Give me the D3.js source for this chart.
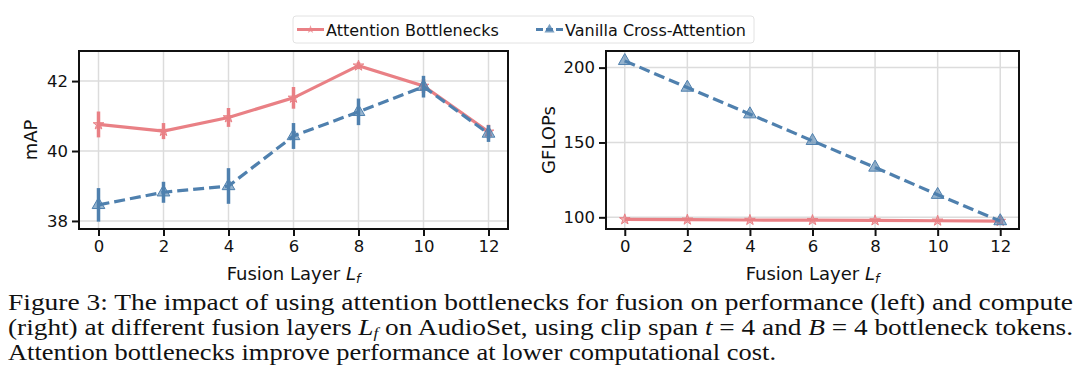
<!DOCTYPE html>
<html>
<head>
<meta charset="utf-8">
<script src="https://cdn.jsdelivr.net/npm/d3@7"></script>
<style>
  body { margin: 0; background: #fff; }
  svg { display: block; }
  .tick text { font-family: "DejaVu Sans", sans-serif; }
  .cap text { font-family: "Liberation Serif", "Times New Roman", serif; }
</style>
</head>
<body>
<svg id="canvas" width="1080" height="381"></svg>
<script>
(function() {

    var layers = [0, 2, 4, 6, 8, 10, 12];
    var xTicks = [0, 2, 4, 6, 8, 10, 12];

    // left panel: mAP
    var mapBottleneck = [40.76, 40.57, 40.96, 41.52, 42.44, 41.86, 40.55];
    var mapBottleneckErr = [0.37, 0.23, 0.27, 0.31, 0.1, 0.2, 0.2];
    var mapVanilla = [38.46, 38.82, 39.0, 40.43, 41.12, 41.84, 40.5];
    var mapVanillaErr = [0.48, 0.3, 0.51, 0.37, 0.38, 0.31, 0.24];
    var mapTicks = [38, 40, 42];

    // right panel: GFLOPs
    var flopsBottleneck = [98.6, 98.4, 98.2, 98.1, 97.9, 97.7, 97.5];
    var flopsVanilla = [204.5, 186.7, 168.9, 151.1, 133.3, 115.1, 97.5];
    var flopsTicks = [100, 150, 200];

    var seriesNames = ['Attention Bottlenecks', 'Vanilla Cross-Attention'];

    var red = '#e98085',
        blue = '#4f80ae',
        font = '"DejaVu Sans", sans-serif';

    var svg = d3.select('#canvas');
    svg.append('rect').attr('width', 1080).attr('height', 381).attr('fill', '#fff');

    var starPath = d3.symbol().type(d3.symbolStar).size(35)();
    var triPath = d3.symbol().type(d3.symbolTriangle).size(70)();

    function panel(opts) {
        var x = d3.scaleLinear().domain([-0.6, 12.6]).range([opts.x0, opts.x1]);
        var y = d3.scaleLinear().domain(opts.yDomain).range([229, 51]);
        var g = svg.append('g');

        // grid
        g.selectAll('.vg').data(xTicks).enter().append('line')
            .attr('x1', function(d) { return x(d); })
            .attr('x2', function(d) { return x(d); })
            .attr('y1', 51).attr('y2', 229)
            .attr('stroke', '#dcdcdc').attr('stroke-width', 1.5);
        g.selectAll('.hg').data(opts.yTicks).enter().append('line')
            .attr('x1', opts.x0).attr('x2', opts.x1)
            .attr('y1', function(d) { return y(d); })
            .attr('y2', function(d) { return y(d); })
            .attr('stroke', '#dcdcdc').attr('stroke-width', 1.5);

        // axes
        var xa = g.append('g').attr('transform', 'translate(0,229)')
            .call(d3.axisBottom(x).tickValues(xTicks).tickFormat(d3.format('d'))
                .tickSize(7).tickPadding(4));
        var ya = g.append('g').attr('transform', 'translate(' + opts.x0 + ',0)')
            .call(d3.axisLeft(y).tickValues(opts.yTicks).tickFormat(d3.format('d'))
                .tickSize(7).tickPadding(4));
        [xa, ya].forEach(function(a) {
            a.select('.domain').remove();
            a.selectAll('.tick line').attr('stroke', '#111').attr('stroke-width', 2);
            a.selectAll('.tick text').attr('font-size', 16.5).attr('fill', '#111');
        });

        var line = d3.line()
            .x(function(d, i) { return x(layers[i]); })
            .y(function(d) { return y(d); });

        opts.series.forEach(function(s) {
            var sg = g.append('g');
            if (s.err) {
                sg.selectAll('.eb').data(s.values).enter().append('line')
                    .attr('x1', function(d, i) { return x(layers[i]); })
                    .attr('x2', function(d, i) { return x(layers[i]); })
                    .attr('y1', function(d, i) { return y(d - s.err[i]); })
                    .attr('y2', function(d, i) { return y(d + s.err[i]); })
                    .attr('stroke', s.color).attr('stroke-width', 3.5);
            }
            sg.append('path').datum(s.values)
                .attr('d', line)
                .attr('fill', 'none')
                .attr('stroke', s.color)
                .attr('stroke-width', 3.2)
                .attr('stroke-dasharray', s.dash || null);
            sg.selectAll('.mk').data(s.values).enter().append('path')
                .attr('d', s.marker)
                .attr('transform', function(d, i) {
                    return 'translate(' + x(layers[i]) + ',' + y(d) + ')';
                })
                .attr('fill', s.color)
                .attr('fill-opacity', 0.6)
                .attr('stroke', s.color)
                .attr('stroke-width', 1);
        });

        // frame
        g.append('rect')
            .attr('x', opts.x0).attr('y', 51)
            .attr('width', opts.x1 - opts.x0).attr('height', 178)
            .attr('fill', 'none').attr('stroke', '#111').attr('stroke-width', 2);

        // labels
        var xl = g.append('text')
            .attr('x', (opts.x0 + opts.x1) / 2).attr('y', 280)
            .attr('text-anchor', 'middle')
            .attr('font-family', font).attr('font-size', 18).attr('fill', '#111');
        xl.append('tspan').text('Fusion Layer ');
        xl.append('tspan').attr('font-style', 'italic').text('L');
        xl.append('tspan').attr('font-style', 'italic').attr('font-size', 12.5)
            .attr('dy', 3).text('f');

        g.append('text')
            .attr('transform', 'translate(' + opts.yLabelX + ',140) rotate(-90)')
            .attr('text-anchor', 'middle')
            .attr('font-family', font).attr('font-size', 18).attr('fill', '#111')
            .text(opts.yLabel);
    }

    panel({
        x0: 79, x1: 508,
        yDomain: [37.77, 42.86], yTicks: mapTicks,
        yLabel: 'mAP', yLabelX: 37,
        series: [
            { values: mapBottleneck, err: mapBottleneckErr, color: red, marker: starPath },
            { values: mapVanilla, err: mapVanillaErr, color: blue, marker: triPath, dash: '11,5' }
        ]
    });

    panel({
        x0: 606, x1: 1019,
        yDomain: [92.2, 211.1], yTicks: flopsTicks,
        yLabel: 'GFLOPs', yLabelX: 555,
        series: [
            { values: flopsBottleneck, color: red, marker: starPath },
            { values: flopsVanilla, color: blue, marker: triPath, dash: '11,5' }
        ]
    });

    // legend
    var lg = svg.append('g');
    lg.append('rect')
        .attr('x', 293).attr('y', 16).attr('width', 461).attr('height', 27).attr('rx', 3)
        .attr('fill', '#fff').attr('stroke', '#e2e2e2').attr('stroke-width', 1);
    var items = [
        { name: seriesNames[0], color: red, marker: starPath, x: 297, dash: null },
        { name: seriesNames[1], color: blue, marker: triPath, x: 536, dash: '7,3' }
    ];
    items.forEach(function(it) {
        lg.append('line')
            .attr('x1', it.x).attr('x2', it.x + 27).attr('y1', 29.5).attr('y2', 29.5)
            .attr('stroke', it.color).attr('stroke-width', 3)
            .attr('stroke-dasharray', it.dash);
        lg.append('path').attr('d', it.marker)
            .attr('transform', 'translate(' + (it.x + 13.5) + ',29.5) scale(0.8)')
            .attr('fill', it.color).attr('fill-opacity', 0.75);
        lg.append('text')
            .attr('x', it.x + 29).attr('y', 35.5)
            .attr('font-family', font).attr('font-size', 16).attr('fill', '#111')
            .text(it.name);
    });

    // caption (condensed Times-style, justified)
    var cap = svg.append('g').attr('class', 'cap').attr('font-size', 24).attr('fill', '#111');
    cap.append('text').attr('x', 8).attr('y', 310)
        .attr('textLength', 1065).attr('lengthAdjust', 'spacingAndGlyphs')
        .text('Figure 3: The impact of using attention bottlenecks for fusion on performance (left) and compute');
    var l2 = cap.append('text').attr('x', 8).attr('y', 335)
        .attr('textLength', 1065).attr('lengthAdjust', 'spacingAndGlyphs');
    l2.append('tspan').text('(right) at different fusion layers ');
    l2.append('tspan').attr('font-style', 'italic').text('L');
    l2.append('tspan').attr('font-style', 'italic').attr('font-size', 15).attr('dy', 3).text('f');
    l2.append('tspan').attr('dy', -3).text(' on AudioSet, using clip span ');
    l2.append('tspan').attr('font-style', 'italic').text('t');
    l2.append('tspan').text(' = 4 and ');
    l2.append('tspan').attr('font-style', 'italic').text('B');
    l2.append('tspan').text(' = 4 bottleneck tokens.');
    cap.append('text').attr('x', 8).attr('y', 360)
        .attr('textLength', 768).attr('lengthAdjust', 'spacingAndGlyphs')
        .text('Attention bottlenecks improve performance at lower computational cost.');

})();
</script>
</body>
</html>
